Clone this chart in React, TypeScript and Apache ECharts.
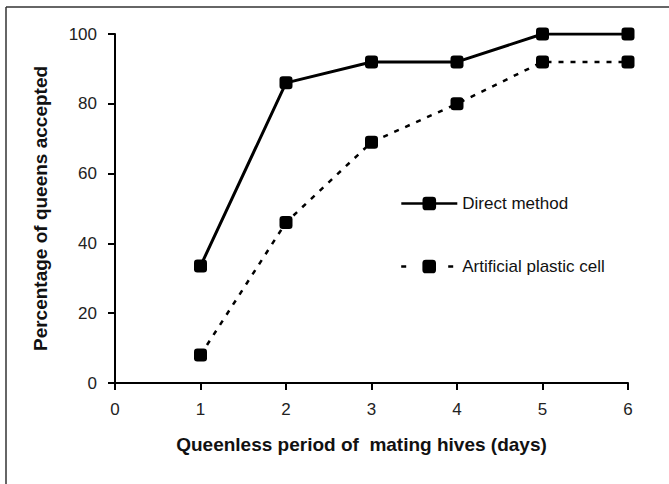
import React, { useEffect, useRef } from "react";
import * as echarts from "echarts";

const days = [1, 2, 3, 4, 5, 6];
const directMethod = [33.5, 86, 92, 92, 100, 100];
const artificialCell = [8, 46, 69, 80, 92, 92];
const seriesNames = ["Direct method", "Artificial plastic cell"];
const xTitle = "Queenless period of  mating hives (days)";
const yTitle = "Percentage of queens accepted";

const FONT = '"Liberation Sans", Arial, sans-serif';

export default function App() {
  const ref = useRef<HTMLDivElement>(null);
  useEffect(() => {
    if (!ref.current) return;
    const chart = echarts.init(ref.current, undefined, { renderer: "svg" });
    const toPairs = (vals: number[]) => days.map((d, i) => [d, vals[i]]);
    const legendBase = {
      orient: "vertical",
      left: 400,
      padding: 0,
      itemWidth: 56,
      itemHeight: 17,
      itemGap: 0,
      textStyle: { fontFamily: FONT, fontSize: 17, color: "#111" },
      selectedMode: false,
    };
    chart.setOption({
      animation: false,
      backgroundColor: "#ffffff",
      textStyle: { fontFamily: FONT, color: "#111" },
      grid: { left: 115, right: 41, top: 34, bottom: 101 },
      xAxis: {
        type: "value",
        min: 0,
        max: 6,
        interval: 1,
        name: xTitle,
        nameLocation: "middle",
        nameGap: 52,
        nameTextStyle: {
          fontFamily: FONT,
          fontSize: 19,
          fontWeight: "bold",
          color: "#111",
          padding: [0, 20, 0, 0],
        },
        axisLine: { show: true, onZero: false, lineStyle: { color: "#000", width: 2 } },
        axisTick: { show: true, inside: false, length: 7, lineStyle: { color: "#000", width: 2 } },
        axisLabel: { fontFamily: FONT, fontSize: 17, color: "#222", margin: 18 },
        splitLine: { show: false },
      },
      yAxis: {
        type: "value",
        min: 0,
        max: 100,
        interval: 20,
        name: yTitle,
        nameLocation: "middle",
        nameGap: 65,
        nameRotate: 90,
        nameTextStyle: { fontFamily: FONT, fontSize: 19, fontWeight: "bold", color: "#111" },
        axisLine: { show: true, lineStyle: { color: "#000", width: 2 } },
        axisTick: { show: true, inside: false, length: 7, lineStyle: { color: "#000", width: 2 } },
        axisLabel: { fontFamily: FONT, fontSize: 17, color: "#222", margin: 18 },
        splitLine: { show: false },
      },
      legend: [
        { ...legendBase, data: [seriesNames[0]], top: 195, lineStyle: { width: 2.6 } },
        { ...legendBase, data: [seriesNames[1]], top: 258, lineStyle: { type: [5, 42], width: 2.4 } },
      ],
      graphic: [
        { type: "line", shape: { x1: 6, y1: 7, x2: 669, y2: 7 }, style: { stroke: "#333", lineWidth: 1.5 } },
        { type: "line", shape: { x1: 6, y1: 7, x2: 6, y2: 484 }, style: { stroke: "#333", lineWidth: 1.5 } },
      ],
      series: [
        {
          name: seriesNames[0],
          type: "line",
          data: toPairs(directMethod),
          symbol: "roundRect",
          symbolSize: 13,
          itemStyle: { color: "#000" },
          lineStyle: { color: "#000", width: 3, type: "solid" },
        },
        {
          name: seriesNames[1],
          type: "line",
          data: toPairs(artificialCell),
          symbol: "roundRect",
          symbolSize: 13,
          itemStyle: { color: "#000" },
          lineStyle: { color: "#000", width: 2.5, type: [5, 7] },
        },
      ],
    });
    return () => chart.dispose();
  }, []);
  return (
    <div
      ref={ref}
      style={{ position: "absolute", left: 0, top: 0, width: 669, height: 484, background: "#fff" }}
    />
  );
}
